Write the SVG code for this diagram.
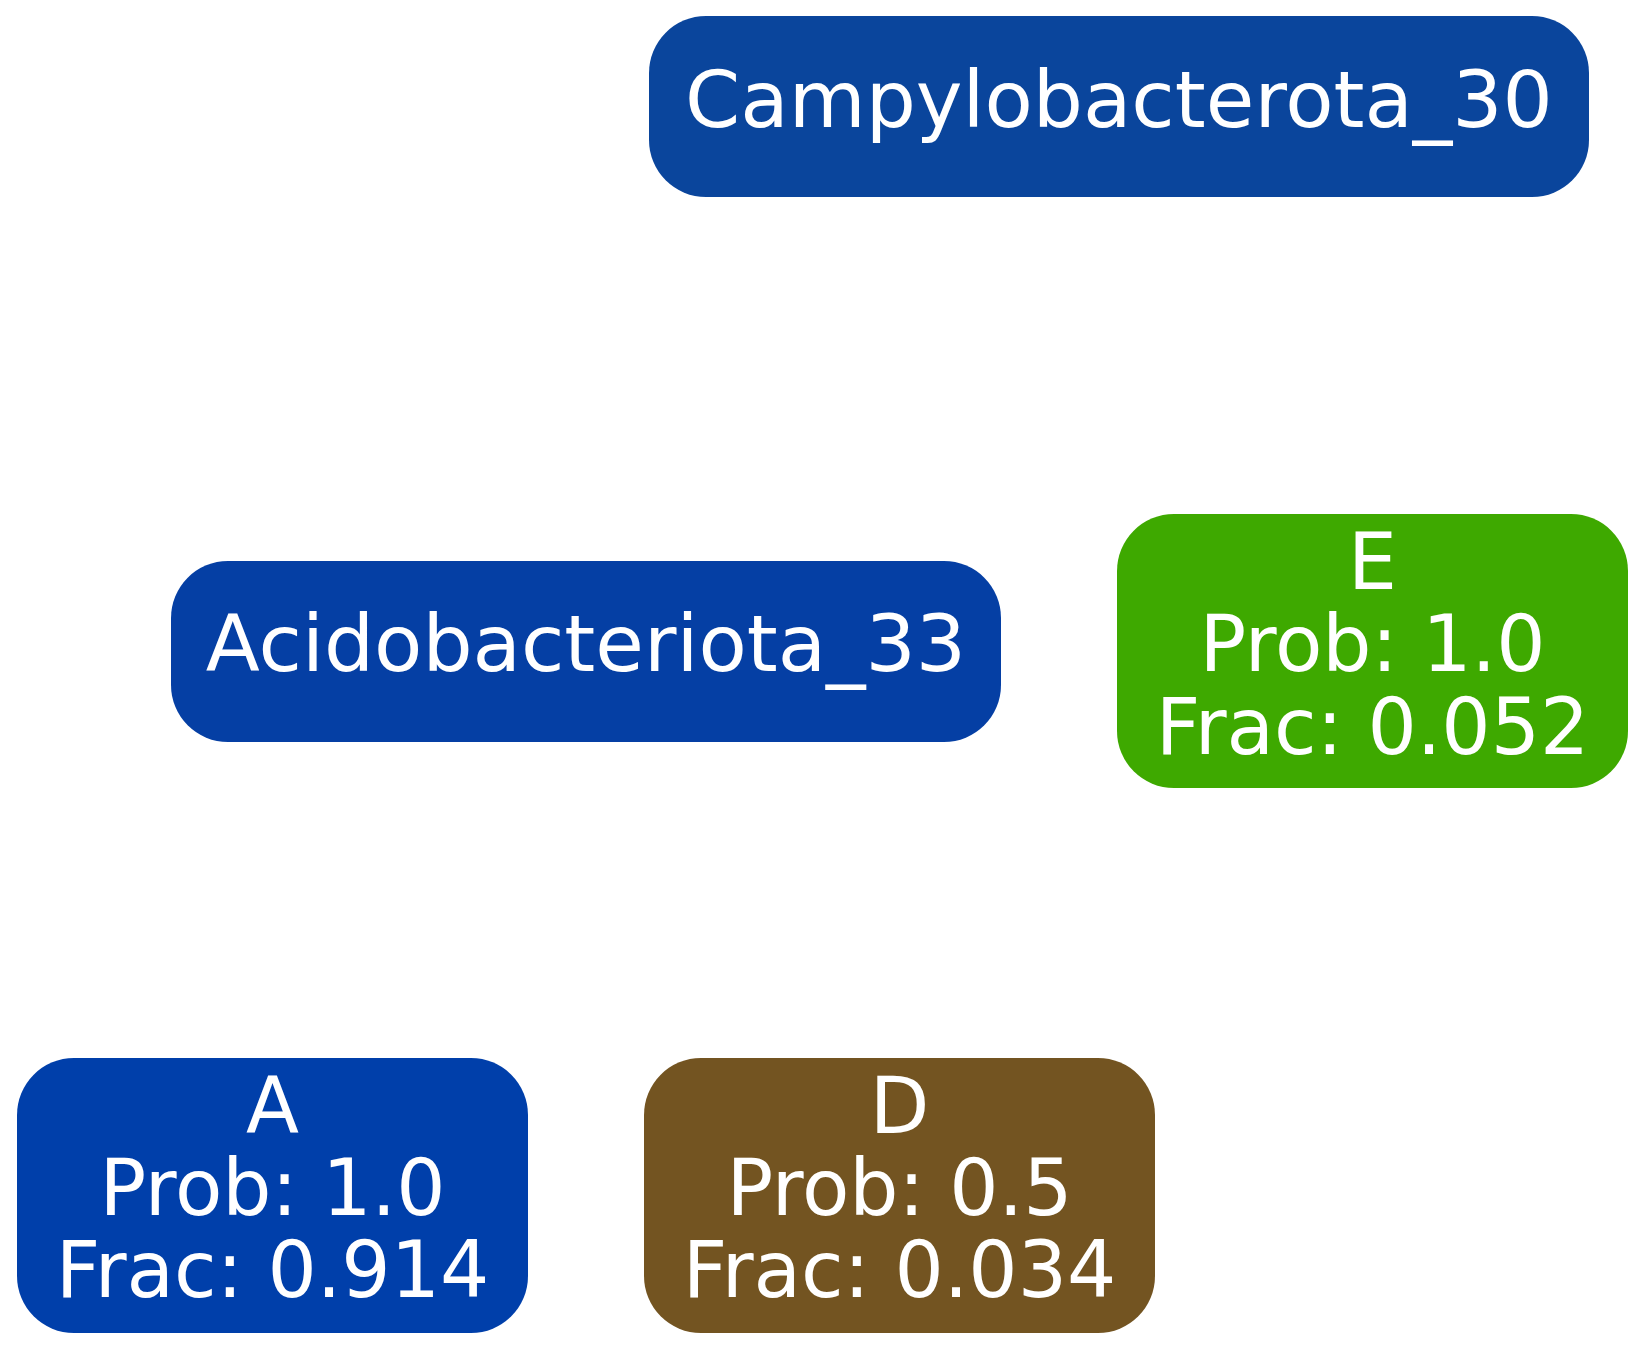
<svg xmlns="http://www.w3.org/2000/svg" width="1645" height="1350" viewBox="0 0 1645 1350">
<style>
text{font-family:"DejaVu Sans",sans-serif;font-size:79px;fill:#ffffff;text-anchor:middle}
text.m{font-size:77.5px}
</style>
<rect width="1645" height="1350" fill="#ffffff"/>
<g id="connectors"></g>
<g id="campylobacterota_30">
<rect x="649" y="16" width="940" height="181" rx="57" ry="57" fill="#0a459c"/>
<text x="1119" y="127">Campylobacterota_30</text>
</g>
<g id="acidobacteriota_33">
<rect x="171" y="561" width="830" height="181" rx="57" ry="57" fill="#053fa4"/>
<text x="586" y="671">Acidobacteriota_33</text>
</g>
<g id="E">
<rect x="1117" y="514" width="511" height="274" rx="57" ry="57" fill="#3ea900"/>
<text class="m" x="1372.5" y="589">E</text>
<text class="m" x="1372.5" y="671">Prob: 1.0</text>
<text class="m" x="1372.5" y="754">Frac: 0.052</text>
</g>
<g id="A">
<rect x="17" y="1058" width="511" height="275" rx="57" ry="57" fill="#003faa"/>
<text class="m" x="272.5" y="1133">A</text>
<text class="m" x="272.5" y="1215">Prob: 1.0</text>
<text class="m" x="272.5" y="1297">Frac: 0.914</text>
</g>
<g id="D">
<rect x="644" y="1058" width="511" height="275" rx="57" ry="57" fill="#735421"/>
<text class="m" x="899.5" y="1133">D</text>
<text class="m" x="899.5" y="1215">Prob: 0.5</text>
<text class="m" x="899.5" y="1297">Frac: 0.034</text>
</g>
</svg>
